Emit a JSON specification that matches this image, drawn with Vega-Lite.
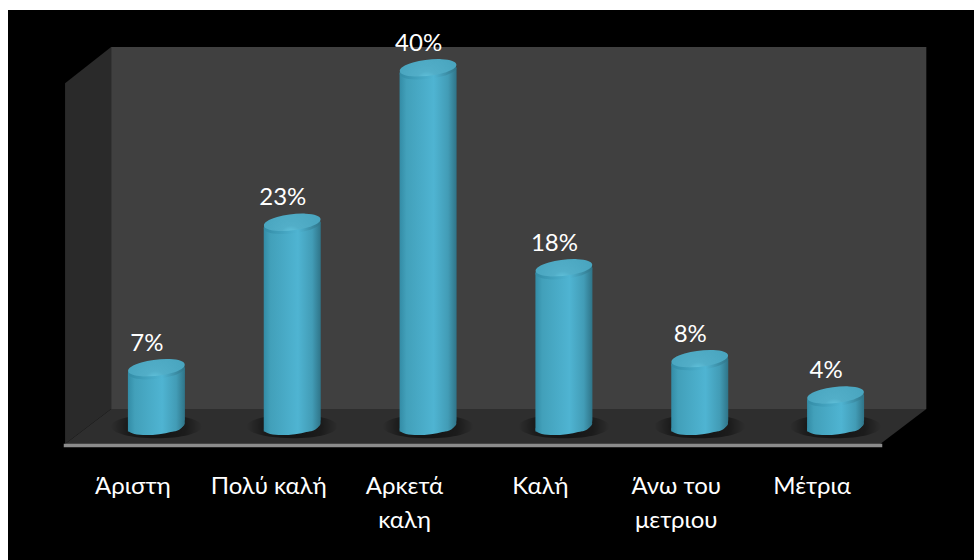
{
  "$schema": "https://vega.github.io/schema/vega-lite/v6.json",
  "width": 966,
  "height": 550,
  "autosize": "none",
  "padding": {"left": 8, "top": 10, "right": 0, "bottom": 0},
  "background": "#ffffff",
  "view": {"fill": "#000000", "stroke": null},
  "resolve": {"scale": {"x": "independent"}},
  "layer": [
    {
      "layer": [
        {
          "data": {"values": [{"from": 0.339, "to": 6.339, "top": 0.4229, "base": 0.0246}]},
          "mark": {"type": "rect", "fill": "#404040"},
          "encoding": {
            "x": {"field": "from", "type": "quantitative", "axis": null, "scale": {"domain": [-0.42, 6.69], "nice": false, "zero": false}},
            "x2": {"field": "to"},
            "y": {"field": "top", "type": "quantitative", "axis": null, "scale": {"domain": [-0.1415, 0.4636], "nice": false, "zero": false}},
            "y2": {"field": "base"}
          }
        },
        {
          "data": {"values": [
            {"slot": 0, "top": 0.383, "base": -0.0139},
            {"slot": 0.339, "top": 0.4229, "base": 0.0246}
          ]},
          "mark": {"type": "area", "fill": "#2a2a2a", "orient": "vertical"},
          "encoding": {
            "x": {"field": "slot", "type": "quantitative", "axis": null, "scale": {"domain": [-0.42, 6.69], "nice": false, "zero": false}},
            "y": {"field": "top", "type": "quantitative", "axis": null, "scale": {"domain": [-0.1415, 0.4636], "nice": false, "zero": false}},
            "y2": {"field": "base"}
          }
        },
        {
          "data": {"values": [
            {"slot": 0, "top": -0.0139, "base": -0.0139},
            {"slot": 0.339, "top": 0.0246, "base": -0.0139},
            {"slot": 6, "top": 0.0246, "base": -0.0139},
            {"slot": 6.339, "top": 0.0246, "base": 0.0246}
          ]},
          "mark": {"type": "area", "fill": "#2e2e2e", "orient": "vertical"},
          "encoding": {
            "x": {"field": "slot", "type": "quantitative", "axis": null, "scale": {"domain": [-0.42, 6.69], "nice": false, "zero": false}},
            "y": {"field": "top", "type": "quantitative", "axis": null, "scale": {"domain": [-0.1415, 0.4636], "nice": false, "zero": false}},
            "y2": {"field": "base"}
          }
        }
      ]
    },
    {
      "data": {"values": [
        {"rating": "Άριστη", "share": 0.07},
        {"rating": "Πολύ καλή", "share": 0.23},
        {"rating": "Αρκετά\nκαλη", "share": 0.40},
        {"rating": "Καλή", "share": 0.18},
        {"rating": "Άνω του\nμετριου", "share": 0.08},
        {"rating": "Μέτρια", "share": 0.04}
      ]},
      "encoding": {
        "x": {
          "field": "rating",
          "type": "nominal",
          "sort": null,
          "scale": {"type": "band", "range": [57, 872], "paddingInner": 0, "paddingOuter": 0},
          "axis": {
            "title": null,
            "orient": "bottom",
            "offset": -115,
            "zindex": 1,
            "ticks": false,
            "grid": false,
            "domainColor": "#8c8c8c",
            "domainWidth": 3.5,
            "domainCap": "square",
            "labelColor": "#ffffff",
            "labelFont": "Lato",
            "labelFontSize": 24,
            "labelLineHeight": 34,
            "labelPadding": 29,
            "labelAngle": 0,
            "labelLimit": 0,
            "labelOverlap": false,
            "labelBound": false,
            "labelExpr": "split(datum.label, '\\n')"
          }
        },
        "y": {"type": "quantitative", "axis": null, "scale": {"domain": [-0.1415, 0.4636], "nice": false, "zero": false}}
      },
      "layer": [
        {
          "mark": {
            "type": "point",
            "filled": true,
            "opacity": 1,
            "size": 8300,
            "xOffset": 23.5,
            "yOffset": -5,
            "shape": "M -1 0 A 1 0.26 0 1 1 1 0 A 1 0.26 0 1 1 -1 0 Z",
            "fill": {
              "gradient": "radial",
              "x1": 0.5, "y1": 0.5, "r1": 0,
              "x2": 0.5, "y2": 0.5, "r2": 0.5,
              "stops": [
                {"offset": 0, "color": "rgba(0,0,0,0.6)"},
                {"offset": 0.65, "color": "rgba(0,0,0,0.4)"},
                {"offset": 1, "color": "rgba(0,0,0,0)"}
              ]
            }
          },
          "encoding": {"y": {"datum": 0, "type": "quantitative"}}
        },
        {
          "mark": {
            "type": "bar",
            "width": 57,
            "xOffset": 23.5,
            "cornerRadiusTopLeft": 6,
            "cornerRadiusBottomRight": 12,
            "fill": {
              "gradient": "linear",
              "x1": 0, "y1": 0, "x2": 1, "y2": 0,
              "stops": [
                {"offset": 0, "color": "#338ca6"},
                {"offset": 0.12, "color": "#42a0ba"},
                {"offset": 0.6, "color": "#4fb4d2"},
                {"offset": 0.85, "color": "#429cb6"},
                {"offset": 1, "color": "#2f7488"}
              ]
            }
          },
          "encoding": {
            "y": {"field": "share", "type": "quantitative"},
            "y2": {"datum": 0}
          }
        },
        {
          "mark": {
            "type": "point",
            "filled": true,
            "opacity": 1,
            "size": 3249,
            "xOffset": 23.5,
            "yOffset": -5,
            "shape": "M -0.993 0.117 A 1 0.28 -6.7 1 0 0.993 -0.117 A 1 0.28 -6.7 1 0 -0.993 0.117 Z",
            "fill": {
              "gradient": "linear",
              "x1": 0, "y1": 0, "x2": 1, "y2": 0,
              "stops": [
                {"offset": 0, "color": "#338ca6"},
                {"offset": 0.12, "color": "#42a0ba"},
                {"offset": 0.6, "color": "#4fb4d2"},
                {"offset": 0.85, "color": "#429cb6"},
                {"offset": 1, "color": "#2f7488"}
              ]
            }
          },
          "encoding": {"y": {"datum": 0, "type": "quantitative"}}
        },
        {
          "mark": {
            "type": "point",
            "filled": true,
            "opacity": 1,
            "size": 3249,
            "xOffset": 23.5,
            "yOffset": 3,
            "shape": "M -0.993 0.117 A 1 0.28 -6.7 1 0 0.993 -0.117 A 1 0.28 -6.7 1 0 -0.993 0.117 Z",
            "fill": {
              "gradient": "linear",
              "x1": 0, "y1": 0, "x2": 1, "y2": 0,
              "stops": [
                {"offset": 0, "color": "#338ca6"},
                {"offset": 0.6, "color": "#4fb4d2"},
                {"offset": 1, "color": "#2f7488"}
              ]
            }
          },
          "encoding": {"y": {"field": "share", "type": "quantitative"}}
        },
        {
          "mark": {
            "type": "point",
            "filled": true,
            "opacity": 1,
            "size": 3249,
            "xOffset": 23.5,
            "shape": "M -0.993 0.117 A 1 0.28 -6.7 1 1 0.993 -0.117 A 1 0.28 -6.7 1 1 -0.993 0.117 Z",
            "fill": {
              "gradient": "radial",
              "x1": 0.47, "y1": 0.82, "r1": 0,
              "x2": 0.5, "y2": 0.6, "r2": 0.65,
              "stops": [
                {"offset": 0, "color": "#74dcf5"},
                {"offset": 0.3, "color": "#52aec8"},
                {"offset": 1, "color": "#45a1bb"}
              ]
            }
          },
          "encoding": {"y": {"field": "share", "type": "quantitative"}}
        },
        {
          "mark": {
            "type": "text",
            "color": "#ffffff",
            "font": "Lato",
            "fontSize": 24,
            "xOffset": 14,
            "yOffset": -24
          },
          "encoding": {
            "y": {"field": "share", "type": "quantitative"},
            "text": {"field": "share", "type": "quantitative", "format": ".0%"}
          }
        }
      ]
    }
  ]
}
